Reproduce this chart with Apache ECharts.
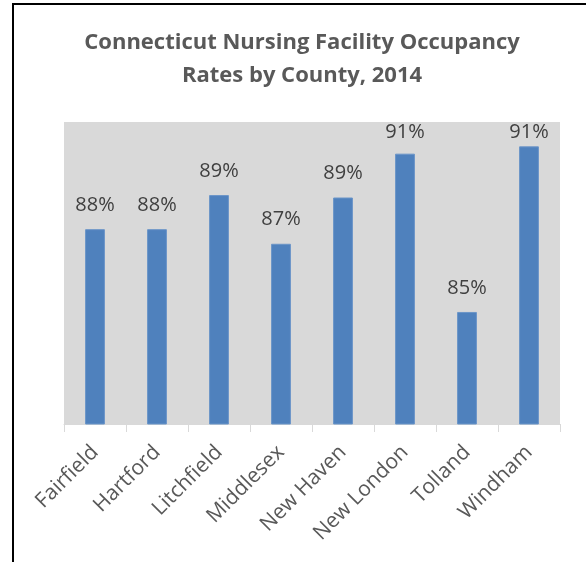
<!DOCTYPE html>
<html>
<head>
<meta charset="utf-8">
<script src="https://cdn.jsdelivr.net/npm/echarts@6/dist/echarts.min.js"></script>
<style>
html,body{margin:0;padding:0;background:#fff;}
#c{width:586px;height:562px;}
</style>
</head>
<body>
<div id="c"></div>
<script>
const titleText = 'Connecticut Nursing Facility Occupancy\nRates by County, 2014';
const counties = ['Fairfield','Hartford','Litchfield','Middlesex','New Haven','New London','Tolland','Windham'];
const occupancy = [88.0, 88.0, 89.4, 87.4, 89.3, 91.1, 84.6, 91.4];
const axisMin = 80;
const axisMax = 92.4;
const gridTop = 122;

const chart = echarts.init(document.getElementById('c'), null, {renderer:'canvas'});
chart.setOption({
  animation:false,
  backgroundColor:'#fff',
  title:{
    text:titleText,
    left:297,
    textAlign:'center',
    top:21,
    textStyle:{fontFamily:'Open Sans',fontWeight:'bold',fontSize:22,color:'#595959',lineHeight:33}
  },
  grid:{left:64,right:26,top:gridTop,bottom:138,show:true,backgroundColor:'#d9d9d9',borderWidth:0},
  xAxis:{
    type:'category',
    data:counties,
    boundaryGap:true,
    axisLine:{lineStyle:{color:'#d9d9d9',width:1}},
    axisTick:{show:true,length:8,lineStyle:{color:'#d9d9d9'}},
    axisLabel:{rotate:45,color:'#595959',fontFamily:'Open Sans',fontSize:21,margin:25,interval:0}
  },
  yAxis:{
    type:'value',min:axisMin,max:axisMax,show:false,splitLine:{show:false}
  },
  series:[{
    type:'bar',
    data:occupancy,
    barWidth:'32%',
    itemStyle:{color:'#4f81bd',borderColor:'#6b95c8',borderWidth:1},
    label:{
      show:true,position:'top',distance:14,
      formatter:p=>Math.round(p.value)+'%',
      fontFamily:'Open Sans',fontSize:20,color:'#404040'
    },
    labelLayout:function(p){
      const r = p.labelRect;
      if(r.y < gridTop){
        return {x: r.x + r.width/2, y: gridTop, align:'center', verticalAlign:'top'};
      }
      return {};
    }
  }],
  graphic:[
    {type:'line',shape:{x1:13,y1:4,x2:13,y2:562},style:{stroke:'#000',lineWidth:2}},
    {type:'line',shape:{x1:12,y1:4,x2:586,y2:4},style:{stroke:'#000',lineWidth:2}}
  ]
});
</script>
</body>
</html>
